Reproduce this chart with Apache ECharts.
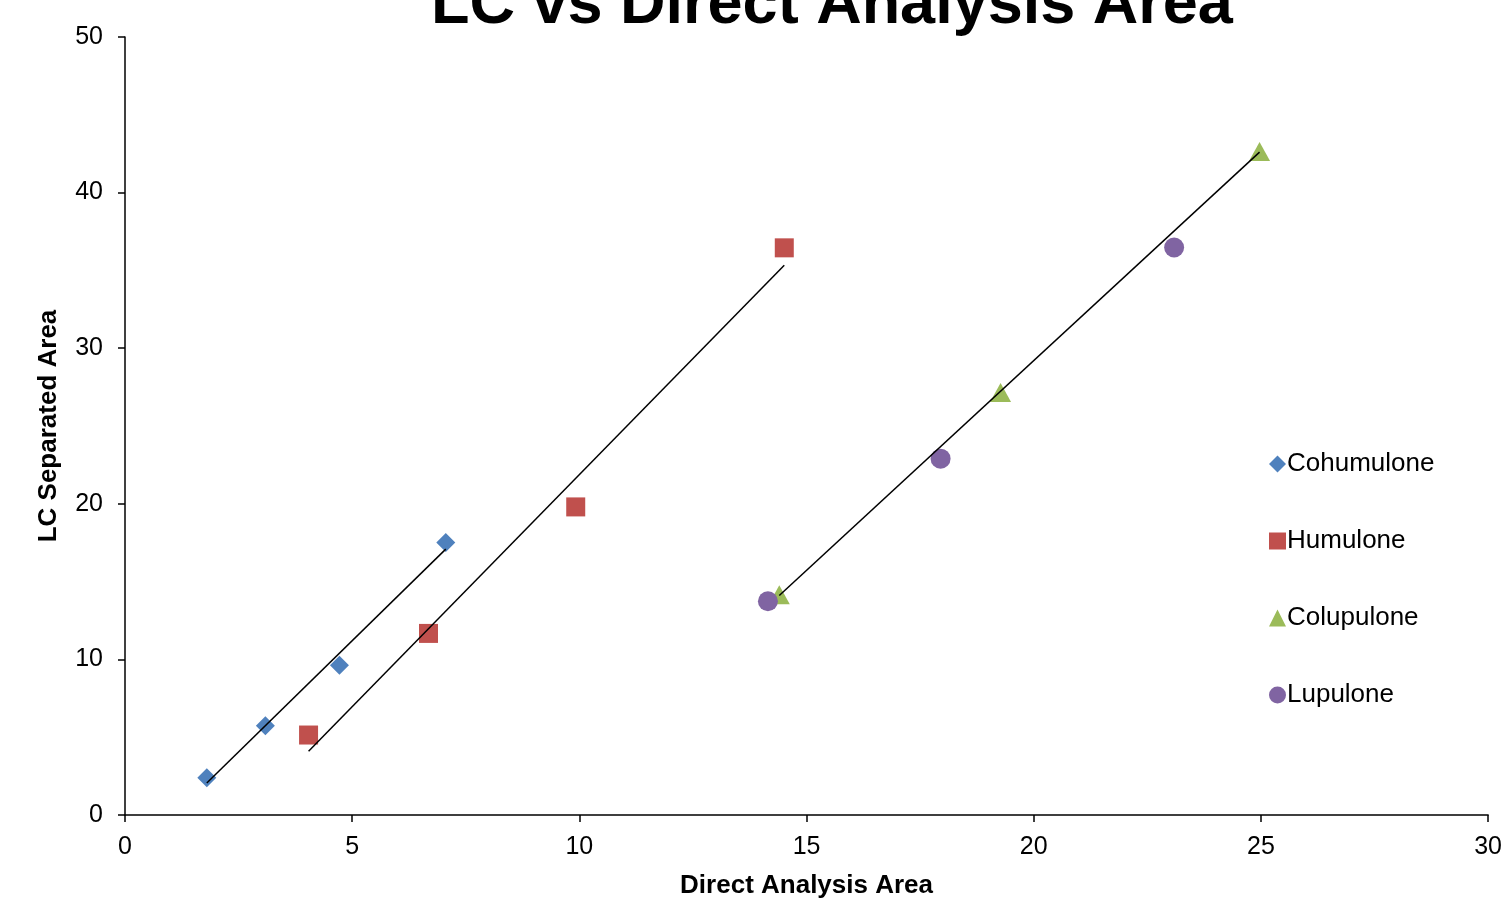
<!DOCTYPE html>
<html>
<head>
<meta charset="utf-8">
<script src="https://cdn.jsdelivr.net/npm/echarts@6/dist/echarts.min.js"></script>
<style>
  html, body { margin: 0; padding: 0; background: #fff; }
  #chart { width: 1505px; height: 904px; }
</style>
</head>
<body>
<div id="chart"></div>
<script>
// values
const cohX = [1.8, 3.09, 4.72, 7.06];
const cohY = [2.4, 5.74, 9.62, 17.52];
const humX = [4.04, 6.68, 9.92, 14.51];
const humY = [5.14, 11.67, 19.8, 36.45];
const colX = [14.4, 19.27, 24.97];
const colY = [14.15, 27.15, 42.64];
const lupX = [14.15, 17.95, 23.09];
const lupY = [13.74, 22.9, 36.47];

const names = ['Cohumulone', 'Humulone', 'Colupulone', 'Lupulone'];
const colors = ['#4F81BD', '#C0504D', '#9BBB59', '#8064A2'];
const symbols = ['diamond', 'rect', 'triangle', 'circle'];
const symbolSizes = [[19, 19], [19, 19], [21, 19], [20, 20]];

const xs = [cohX, humX, colX, lupX];
const ys = [cohY, humY, colY, lupY];

function pairs(x, y) {
    return x.map(function (v, i) { return [v, y[i]]; });
}

// least squares line over the data's own x range
function trend(x, y) {
    let n = x.length, sx = 0, sy = 0, sxx = 0, sxy = 0;
    for (let i = 0; i < n; i++) {
        sx += x[i]; sy += y[i]; sxx += x[i] * x[i]; sxy += x[i] * y[i];
    }
    let b = (n * sxy - sx * sy) / (n * sxx - sx * sx);
    let a = (sy - b * sx) / n;
    let lo = Math.min.apply(null, x), hi = Math.max.apply(null, x);
    return [[lo, a + b * lo], [hi, a + b * hi]];
}

const font = 'Liberation Sans, Arial, sans-serif';
let series = [];

// trend lines (Lupulone has none in the original)
[0, 1, 2].forEach(function (k) {
    series.push({
        name: names[k] + ' trend',
        type: 'line',
        data: trend(xs[k], ys[k]),
        showSymbol: false,
        silent: true,
        z: 3,
        lineStyle: { color: '#000', width: 1.5 }
    });
});

names.forEach(function (nm, k) {
    series.push({
        name: nm,
        type: 'scatter',
        data: pairs(xs[k], ys[k]),
        symbol: symbols[k],
        symbolSize: symbolSizes[k],
        itemStyle: { color: colors[k], opacity: 1 },
        z: 2
    });
});

const chart = echarts.init(document.getElementById('chart'));
chart.setOption({
    animation: false,
    title: {
        text: 'LC vs Direct Analysis Area',
        left: 426,
        top: -31,
        textStyle: { fontFamily: font, fontWeight: 'bold', fontSize: 63, color: '#000' }
    },
    legend: {
        data: names.map(function (nm, k) { return { name: nm, icon: symbols[k] }; }),
        orient: 'vertical',
        left: 1264,
        top: 446,
        itemWidth: 17,
        itemHeight: 17,
        itemGap: 51,
        textStyle: { fontFamily: font, fontSize: 26, color: '#000', padding: [0, 0, 0, -4] }
    },
    grid: { left: 125, right: 11, top: 37, bottom: 82, containLabel: false },
    xAxis: {
        type: 'value',
        min: 0, max: 30, interval: 5,
        name: 'Direct Analysis Area',
        nameLocation: 'middle',
        nameGap: 58,
        nameTextStyle: { fontFamily: font, fontWeight: 'bold', fontSize: 26, color: '#000' },
        axisLine: { show: true, lineStyle: { color: '#000', width: 1.5 } },
        axisTick: { show: true, inside: false, length: 7, lineStyle: { color: '#000', width: 1.5 } },
        axisLabel: { fontFamily: font, fontSize: 25, color: '#000', margin: 20 },
        splitLine: { show: false }
    },
    yAxis: {
        type: 'value',
        min: 0, max: 50, interval: 10,
        name: 'LC Separated Area',
        nameLocation: 'middle',
        nameGap: 63,
        nameTextStyle: { fontFamily: font, fontWeight: 'bold', fontSize: 26, color: '#000' },
        axisLine: { show: true, lineStyle: { color: '#000', width: 1.5 } },
        axisTick: { show: true, inside: false, length: 7, lineStyle: { color: '#000', width: 1.5 } },
        axisLabel: { fontFamily: font, fontSize: 25, color: '#000', margin: 22 },
        splitLine: { show: false }
    },
    series: series
});
</script>
</body>
</html>
